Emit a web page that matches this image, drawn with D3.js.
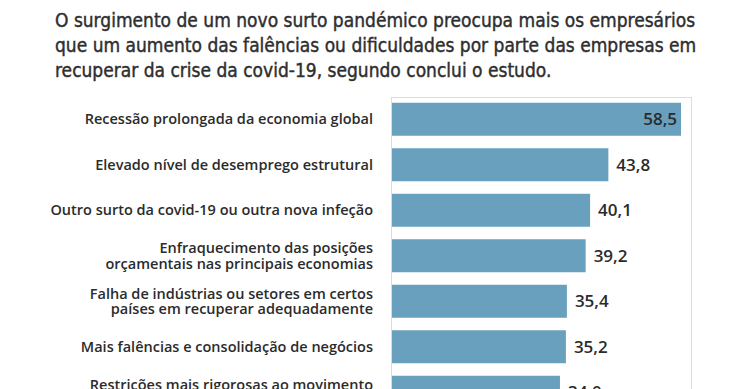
<!DOCTYPE html>
<html>
<head>
<meta charset="utf-8">
<script src="https://cdn.jsdelivr.net/npm/d3@7"></script>
<style>
  body { margin: 0; background: #fff; }
  .title { font-family: "DejaVu Sans Condensed", "DejaVu Sans", sans-serif; font-size: 19px; fill: #2e2e2e; stroke: #2e2e2e; stroke-width: 0.4px; }
  .label { font-family: "Open Sans", sans-serif; font-weight: 600; font-size: 14.5px; fill: #2b2b2b; }
  .value { font-family: "Open Sans", sans-serif; font-weight: 600; font-size: 17px; fill: #2b2b2b; }
</style>
</head>
<body>
<div id="chart"></div>
<script>
/* Title lines */
var titleLines = [
    "O surgimento de um novo surto pandémico preocupa mais os empresários",
    "que um aumento das falências ou dificuldades por parte das empresas em",
    "recuperar da crise da covid-19, segundo conclui o estudo."
];

/* Categories (each as list of lines) */
var categories = [
    ["Recessão prolongada da economia global"],
    ["Elevado nível de desemprego estrutural"],
    ["Outro surto da covid-19 ou outra nova infeção"],
    ["Enfraquecimento das posições", "orçamentais nas principais economias"],
    ["Falha de indústrias ou setores em certos", "países em recuperar adequadamente"],
    ["Mais falências e consolidação de negócios"],
    ["Restrições mais rigorosas ao movimento", ""]
];

/* Values (%) */
var values = [58.5, 43.8, 40.1, 39.2, 35.4, 35.2, 34.0];

var width = 740,
    height = 389;

var svg = d3.select("#chart")
    .append("svg")
    .attr("width", width)
    .attr("height", height);

/* Title */
svg.append("g")
    .selectAll("text")
    .data(titleLines)
    .enter().append("text")
    .attr("class", "title")
    .attr("x", 55)
    .attr("y", function (d, i) { return 27 + i * 25; })
    .text(function (d) { return d; });

/* Scales */
var x = d3.scaleLinear().domain([0, 60]).range([392, 688.4]);
var y = d3.scaleBand()
    .domain(d3.range(categories.length))
    .range([96.5, 415])
    .paddingInner(0.275)
    .paddingOuter(0.1375);

/* Frame around the plot */
svg.append("rect")
    .attr("x", 391.5)
    .attr("y", 97.5)
    .attr("width", 300)
    .attr("height", 320)
    .attr("fill", "none")
    .attr("stroke", "#dcdcdc")
    .attr("stroke-width", 1);

/* Bars */
svg.selectAll(".bar")
    .data(values)
    .enter().append("rect")
    .attr("class", "bar")
    .attr("x", x(0))
    .attr("y", function (d, i) { return y(i); })
    .attr("width", function (d) { return x(d) - x(0); })
    .attr("height", y.bandwidth())
    .attr("fill", "#68a0be");

/* Value labels: the largest sits inside the bar */
var maxVal = d3.max(values);
svg.selectAll(".value")
    .data(values)
    .enter().append("text")
    .attr("class", "value")
    .attr("x", function (d) { return d === maxVal ? x(d) - 4 : x(d) + 8; })
    .attr("y", function (d, i) { return y(i) + y.bandwidth() / 2; })
    .attr("dy", "0.36em")
    .attr("text-anchor", function (d) { return d === maxVal ? "end" : "start"; })
    .text(function (d) { return d3.format(".1f")(d).replace(".", ","); });

/* Category labels */
var labels = svg.selectAll(".label")
    .data(categories)
    .enter().append("text")
    .attr("class", "label")
    .attr("text-anchor", "end");

labels.selectAll("tspan")
    .data(function (d, i) {
        return d.map(function (line, j) { return { line: line, j: j, n: d.length, i: i }; });
    })
    .enter().append("tspan")
    .attr("x", 373)
    .attr("y", function (d) {
        return y(d.i) + y.bandwidth() / 2 + (d.j - (d.n - 1) / 2) * 15.5;
    })
    .attr("dy", "0.36em")
    .text(function (d) { return d.line; });
</script>
</body>
</html>
